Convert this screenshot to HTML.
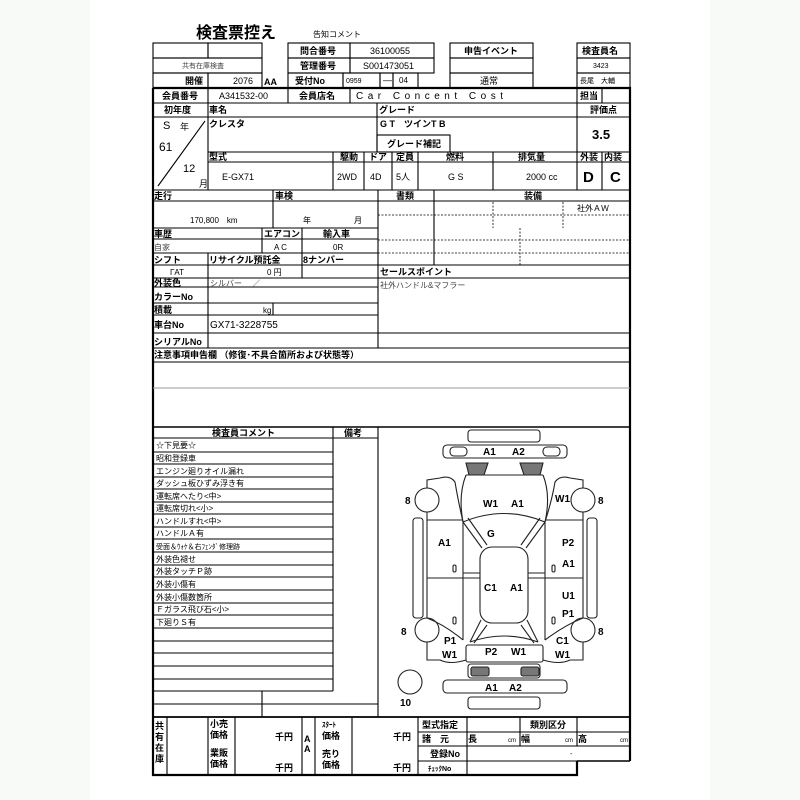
<!DOCTYPE html>
<html><head><meta charset="utf-8"><style>
html,body{margin:0;padding:0;background:#fff}
svg{display:block}
text{font-family:"Liberation Sans","Noto Sans CJK JP",sans-serif;fill:#000}
.b{font-weight:bold;font-size:9px}
.n{font-size:9px}
.g{font-size:8px;fill:#444}
</style></head><body>
<svg width="800" height="800" viewBox="0 0 800 800" xmlns="http://www.w3.org/2000/svg">
<rect width="800" height="800" fill="#fff"/>
<rect x="0" y="0" width="90" height="800" fill="#f8faf8"/>
<rect x="710" y="0" width="90" height="800" fill="#f8faf8"/>
<g stroke="#000" stroke-width="1.1" fill="none">
<rect x="153" y="43" width="55" height="15"/><rect x="208" y="43" width="54" height="15"/>
<rect x="153" y="58" width="109" height="15"/>
<rect x="153" y="73" width="55" height="15"/><rect x="208" y="73" width="54" height="15"/>
<rect x="288" y="43" width="62" height="15"/><rect x="350" y="43" width="84" height="15"/>
<rect x="288" y="58" width="62" height="15"/><rect x="350" y="58" width="84" height="15"/>
<rect x="288" y="73" width="55" height="15"/><rect x="343" y="73" width="37" height="15"/><rect x="380" y="73" width="13" height="15"/><rect x="393" y="73" width="25" height="15"/>
<rect x="450" y="43" width="83" height="15"/><rect x="450" y="58" width="83" height="15"/><rect x="450" y="73" width="83" height="15"/>
<rect x="577" y="43" width="53" height="15"/><rect x="577" y="58" width="53" height="15"/><rect x="577" y="73" width="53" height="15"/>
<path d="M153 88 H630 V761 M153 88 V775 H577 V761" stroke-width="2.2"/>
<path d="M630 761 H577" stroke-width="1.5"/>
<path d="M153 103H630 M153 117H630 M208 152H630 M208 162H630 M153 190H630"/>
<path d="M208 88V190 M288 88V103 M350 88V103 M577 88V103 M602 88V103 M377 103V152 M577 103V190 M333 152V190 M364 152V190 M392 152V190 M418 152V190 M493 152V190 M602 152V190"/>
<rect x="377" y="135" width="73" height="17"/>
<path d="M205 121 L158 186"/>
<path d="M153 201H630 M153 228H378 M153 239H378 M153 253H378 M153 265H630 M153 278H630 M153 287H378 M153 303H378 M153 315H378 M153 333H630 M153 348H630 M153 362H630"/>
<path d="M273 190V228 M378 190V348 M434 190V265 M262 228V253 M302 228V278 M208 253V278 M208 278V348 M273 303V315"/>
<path d="M378 215H630 M378 240H630 M378 253H630 M493 202V228 M563 202V228 M520 228V265" stroke-dasharray="2 1.5" stroke-width="0.8"/>
<path d="M153 388H630" stroke="#999"/>
<path d="M153 427H630" stroke-width="1.5"/>
<path d="M153 438H378 M333 427V691 M378 427V717 M262 691V717 M153 704H378"/>
<path d="M153 452H333 M153 464H333 M153 477H333 M153 489H333 M153 502H333 M153 514H333 M153 527H333 M153 539H333 M153 552H333 M153 565H333 M153 577H333 M153 590H333 M153 603H333 M153 615H333 M153 628H333 M153 641H333 M153 653H333 M153 666H333 M153 679H333 M153 691H333"/>
<path d="M153 717H630" stroke-width="1.8"/>
<path d="M167 717V775 M208 717V775 M235 717V775 M302 717V775 M315 717V775 M352 717V775 M418 717V775 M467 717V775 M520 717V746 M577 717V746 M418 732H630 M418 746H630 M418 761H630"/>
</g>

<g stroke="#222" stroke-width="1.1" fill="none">
<rect x="468" y="430" width="72" height="12" rx="3"/>
<rect x="443" y="445" width="124" height="13" rx="4"/>
<rect x="450" y="447" width="17" height="9" rx="4"/><rect x="543" y="447" width="17" height="9" rx="4"/>
<path d="M466 463H488L484 475H469Z M520 463H543L540 475H524Z" fill="#777"/>
<path d="M466 475H543"/>
<path d="M466 475 Q458 495 463 522 M543 475 Q551 495 545 522"/>
<path d="M463 522 Q504 505 545 522"/>
<path d="M427 488 V480 L440 478 Q450 475 455 482 Q458 500 463 522 M583 488 V480 L570 478 Q560 475 555 482 Q552 500 545 522"/>
<path d="M427 512 V520 H463 M583 512 V520 H545"/>
<path d="M463 522 L482 548 M468 518 L487 545 M545 522 L526 548 M540 518 L521 545"/>
<path d="M427 520 V618 M583 520 V618 M463 522 V640 M545 522 V640"/>
<path d="M427 578 H480 M528 578 H583 M463 573 H480 M528 573 H545"/>
<rect x="480" y="547" width="48" height="76" rx="12"/>
<path d="M481 620 L470 642 M527 620 L538 642 M487 625 L474 643 M521 625 L534 643"/>
<path d="M470 642 Q504 630 538 642"/>
<path d="M427 618 Q445 625 463 640 M583 618 Q565 625 545 640"/>
<path d="M427 642 V660 L440 660 Q450 665 466 660 M583 642 V660 L570 660 Q560 665 543 660"/>
<rect x="466" y="645" width="77" height="17" rx="2"/>
<rect x="468" y="664" width="72" height="14" rx="3"/>
<rect x="471" y="667" width="18" height="9" rx="2" fill="#777"/><rect x="521" y="667" width="18" height="9" rx="2" fill="#777"/>
<rect x="443" y="680" width="124" height="13" rx="4"/>
<rect x="468" y="697" width="72" height="12" rx="3"/>
<rect x="413" y="518" width="10" height="100" rx="3"/><rect x="587" y="518" width="10" height="100" rx="3"/>
<circle cx="427" cy="500" r="12"/><circle cx="583" cy="500" r="12"/>
<circle cx="427" cy="630" r="12"/><circle cx="583" cy="630" r="12"/>
<circle cx="410" cy="682" r="12"/>
<rect x="453" y="565" width="3" height="7" rx="1.5"/><rect x="552" y="565" width="3" height="7" rx="1.5"/>
<rect x="453" y="617" width="3" height="7" rx="1.5"/><rect x="552" y="617" width="3" height="7" rx="1.5"/>
</g>
<g class="b" style="font-size:10px">
<text x="483" y="455">A1</text><text x="512" y="455">A2</text>
<text x="405" y="504">8</text><text x="483" y="507">W1</text><text x="511" y="507">A1</text><text x="555" y="502">W1</text><text x="598" y="504">8</text>
<text x="487" y="537">G</text><text x="438" y="546">A1</text><text x="562" y="546">P2</text><text x="562" y="567">A1</text>
<text x="484" y="591">C1</text><text x="510" y="591">A1</text><text x="562" y="599">U1</text><text x="562" y="617">P1</text>
<text x="401" y="635">8</text><text x="598" y="635">8</text>
<text x="444" y="644">P1</text><text x="556" y="644">C1</text>
<text x="442" y="658">W1</text><text x="485" y="655">P2</text><text x="511" y="655">W1</text><text x="555" y="658">W1</text>
<text x="485" y="691">A1</text><text x="509" y="691">A2</text>
<text x="400" y="706">10</text>
</g>

<text x="196" y="38" style="font-size:16px;font-weight:bold">検査票控え</text>
<text x="313" y="37" style="font-size:8px">告知コメント</text>
<text x="182" y="68" class="g" style="font-size:7px">共有在庫検査</text>
<text x="185" y="84" class="b">開催</text><text x="233" y="84" class="n">2076</text><text x="264" y="85" class="b">AA</text>
<text x="300" y="54" class="b">問合番号</text><text x="370" y="54" class="n">36100055</text>
<text x="300" y="69" class="b">管理番号</text><text x="363" y="69" class="n">S001473051</text>
<text x="295" y="84" class="b">受付No</text><text x="346" y="83" style="font-size:7px">0959</text><text x="383" y="83" class="n">—</text><text x="399" y="83" style="font-size:8px">04</text>
<text x="464" y="54" class="b">申告イベント</text><text x="480" y="84" class="n">通常</text>
<text x="582" y="54" class="b">検査員名</text><text x="593" y="68" style="font-size:7px">3423</text><text x="580" y="83" style="font-size:7px">長尾　大輔</text>
<text x="162" y="99" class="b">会員番号</text><text x="219" y="99" class="n">A341532-00</text>
<text x="299" y="99" class="b">会員店名</text><text x="356" y="99" style="font-size:10px;letter-spacing:4.5px">Car Concent Cost</text>
<text x="580" y="99" class="b">担当</text>
<text x="164" y="113" class="b">初年度</text><text x="209" y="113" class="b">車名</text><text x="379" y="113" class="b">グレード</text><text x="590" y="113" class="b">評価点</text>
<text x="163" y="129" style="font-size:11px">S</text><text x="180" y="130" class="n">年</text>
<text x="159" y="151" style="font-size:12px">61</text>
<text x="183" y="172" style="font-size:11px">12</text><text x="199" y="187" class="n">月</text>
<text x="209" y="127" class="b">クレスタ</text><text x="380" y="127" class="b">G T　ツインT B</text>
<text x="387" y="147" class="b">グレード補記</text>
<text x="592" y="139" style="font-size:13px;font-weight:bold">3.5</text>
<text x="209" y="160" class="b">型式</text><text x="340" y="160" class="b">駆動</text><text x="369" y="160" class="b">ドア</text><text x="396" y="160" class="b">定員</text><text x="446" y="160" class="b">燃料</text><text x="518" y="160" class="b">排気量</text><text x="580" y="160" class="b">外装</text><text x="604" y="160" class="b">内装</text>
<text x="222" y="180" class="n">E-GX71</text><text x="337" y="180" class="n">2WD</text><text x="370" y="180" class="n">4D</text><text x="396" y="180" class="n">5人</text><text x="448" y="180" class="n">G S</text><text x="526" y="180" class="n">2000 cc</text>
<text x="583" y="182" style="font-size:15px;font-weight:bold">D</text><text x="610" y="182" style="font-size:15px;font-weight:bold">C</text>
<text x="154" y="199" class="b">走行</text><text x="275" y="199" class="b">車検</text><text x="396" y="199" class="b">書類</text><text x="524" y="199" class="b">装備</text>
<text x="190" y="223" style="font-size:8px">170,800　km</text>
<text x="303" y="223" style="font-size:8px">年</text><text x="354" y="223" style="font-size:8px">月</text>
<text x="577" y="211" style="font-size:8px">社外ＡＷ</text>
<text x="154" y="237" class="b">車歴</text><text x="264" y="237" class="b">エアコン</text><text x="323" y="237" class="b">輸入車</text>
<text x="154" y="250" class="g">自家</text><text x="274" y="250" style="font-size:8px">A C</text><text x="333" y="250" style="font-size:8px">0R</text>
<text x="154" y="263" class="b">シフト</text><text x="209" y="263" class="b">リサイクル預託金</text><text x="303" y="263" class="b">8ナンバー</text>
<text x="170" y="275" style="font-size:8px">ΓAT</text><text x="267" y="275" style="font-size:8px">0 円</text>
<text x="380" y="275" class="b">セールスポイント</text>
<text x="380" y="288" class="g">社外ハンドル&amp;マフラー</text>
<text x="154" y="286" class="b">外装色</text><text x="210" y="286" class="g">シルバー　 ／</text>
<text x="154" y="300" class="b">カラーNo</text>
<text x="154" y="313" class="b">積載</text><text x="263" y="313" style="font-size:8px">kg</text>
<text x="154" y="328" class="b">車台No</text><text x="210" y="328" style="font-size:10px">GX71-3228755</text>
<text x="154" y="345" class="b">シリアルNo</text>
<text x="154" y="358" class="b">注意事項申告欄 （修復･不具合箇所および状態等）</text>
<text x="212" y="436" class="b">検査員コメント</text><text x="344" y="436" class="b">備考</text>
<g class="g">
<text x="156" y="448">☆下見要☆</text>
<text x="156" y="461">昭和登録車</text>
<text x="156" y="474">エンジン廻りオイル漏れ</text>
<text x="156" y="486">ダッシュ板ひずみ浮き有</text>
<text x="156" y="499">運転席へたり&lt;中&gt;</text>
<text x="156" y="511">運転席切れ&lt;小&gt;</text>
<text x="156" y="524">ハンドルすれ&lt;中&gt;</text>
<text x="156" y="536">ハンドルＡ有</text>
<text x="156" y="549" style="font-size:7px">受面＆ｳｫｹ＆右ﾌｪﾝﾀﾞ修理跡</text>
<text x="156" y="562">外装色褪せ</text>
<text x="156" y="574">外装タッチＰ跡</text>
<text x="156" y="587">外装小傷有</text>
<text x="156" y="600">外装小傷数箇所</text>
<text x="156" y="612">Ｆガラス飛び石&lt;小&gt;</text>
<text x="156" y="625">下廻りＳ有</text>
</g>
<g class="b">
<text x="155" y="729">共</text><text x="155" y="740">有</text><text x="155" y="751">在</text><text x="155" y="762">庫</text>
<text x="210" y="727">小売</text><text x="210" y="738">価格</text><text x="275" y="740">千円</text>
<text x="210" y="756">業販</text><text x="210" y="767">価格</text><text x="275" y="771">千円</text>
<text x="304" y="742">A</text><text x="304" y="752">A</text>
<text x="322" y="727" style="font-size:7px">ｽﾀｰﾄ</text><text x="322" y="739">価格</text><text x="393" y="740">千円</text>
<text x="322" y="757">売り</text><text x="322" y="768">価格</text><text x="393" y="771">千円</text>
<text x="422" y="728">型式指定</text><text x="530" y="728">類別区分</text>
<text x="422" y="742">諸　元</text><text x="468" y="742">長</text><text x="521" y="742">幅</text><text x="578" y="742">高</text>
<text x="430" y="757">登録No</text><text x="428" y="771" style="font-size:7px">ﾁｪｯｸNo</text>
</g>
<g style="font-size:6px"><text x="508" y="742">cm</text><text x="565" y="742">cm</text><text x="620" y="742">cm</text></g>
<text x="570" y="756" style="font-size:7px">-</text>
</svg>
</body></html>
